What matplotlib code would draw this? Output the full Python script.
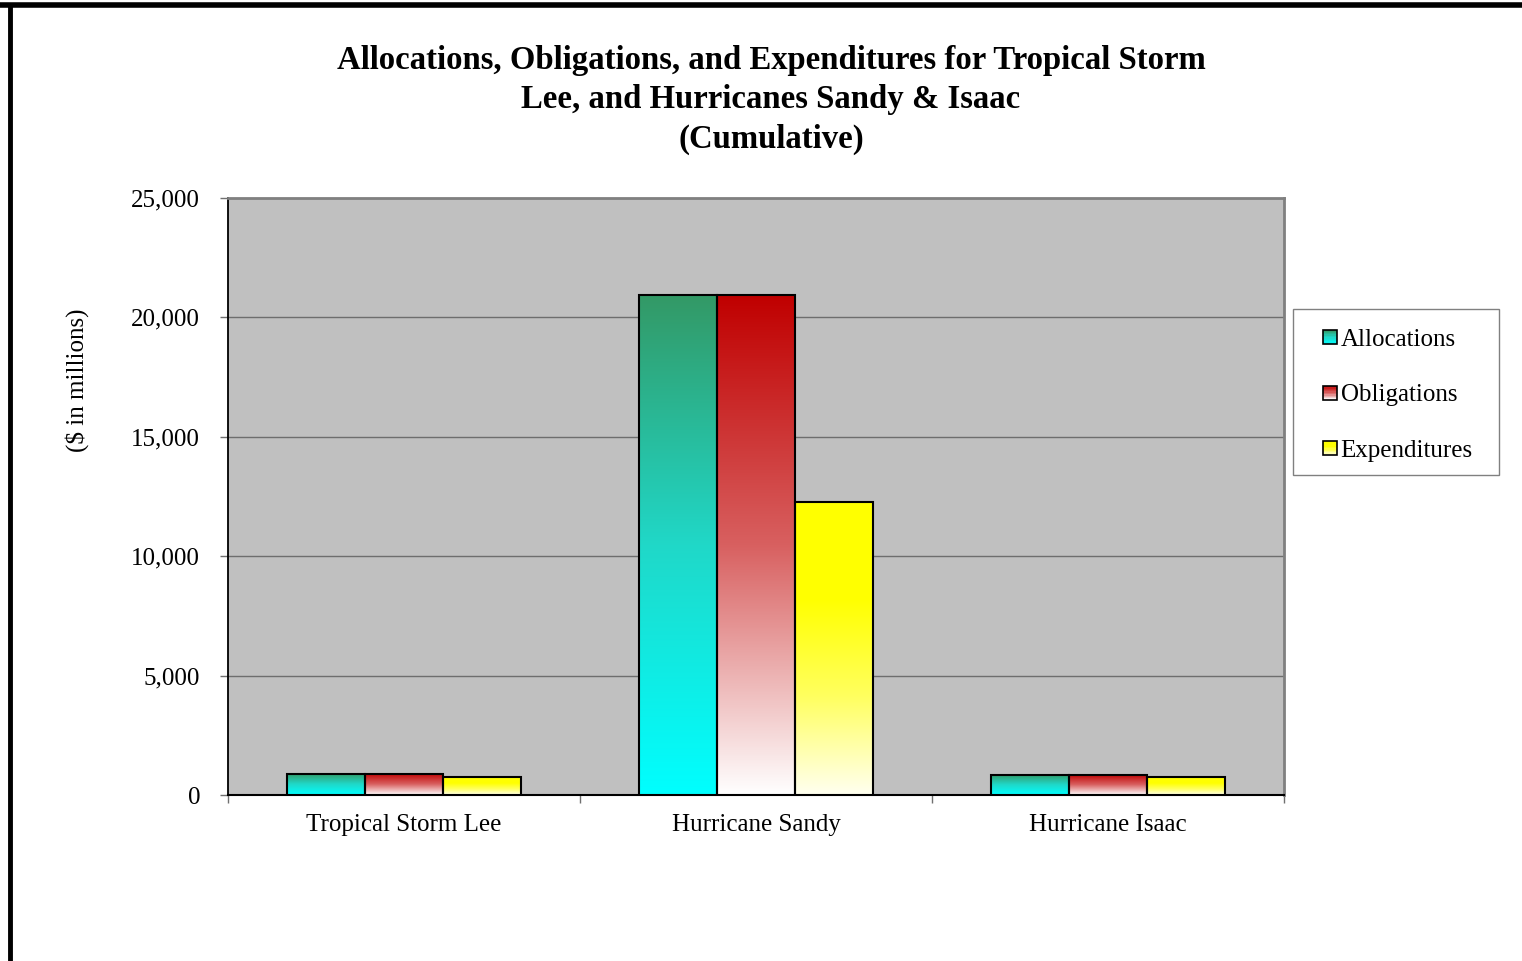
import numpy as np
import matplotlib
matplotlib.use("Agg")
import matplotlib.pyplot as plt
from matplotlib.colors import LinearSegmentedColormap
from matplotlib.patches import Rectangle
from matplotlib.legend_handler import HandlerBase

# Дані графіка
categories = ["Tropical Storm Lee", "Hurricane Sandy", "Hurricane Isaac"]
series = ["Allocations", "Obligations", "Expenditures"]
allocations = [880, 20920, 850]
obligations = [880, 20920, 850]
expenditures = [750, 12270, 740]
values = [allocations, obligations, expenditures]

# Градієнти: (низ, верх)
gradients = [
    LinearSegmentedColormap.from_list("alloc", ["#00FFFF", "#20D8C8", "#339966"]),
    LinearSegmentedColormap.from_list("oblig", ["#FFFFFF", "#D86060", "#C00000"]),
    LinearSegmentedColormap.from_list("expend", ["#FFFFF0", "#FFFF60", "#FFFF00", "#FFFF00"]),
]

plt.rcParams['font.family'] = ['Liberation Serif', 'DejaVu Serif']

fig = plt.figure(figsize=(15.22, 9.61), dpi=100)
ax = fig.add_axes([228 / 1522, 1 - 795 / 961, 1056 / 1522, 597 / 961])
ax.set_facecolor("#C0C0C0")

x = np.arange(len(categories))
width = 0.2216
grad = np.linspace(0, 1, 256).reshape(-1, 1)

for i, (vals, cmap) in enumerate(zip(values, gradients)):
    xs = x + (i - 1) * width
    bars = ax.bar(xs, vals, width, facecolor="none", edgecolor="black",
                  linewidth=1.5, zorder=4)
    for b in bars:
        x0, y0 = b.get_x(), b.get_y()
        ax.imshow(grad, cmap=cmap, origin="lower", aspect="auto",
                  extent=(x0, x0 + b.get_width(), y0, y0 + b.get_height()),
                  zorder=3)

ax.set_xlim(-0.5, 2.5)
ax.set_ylim(0, 25000)
ax.set_yticks(range(0, 25001, 5000))
ax.set_yticklabels([f"{v:,}" for v in range(0, 25001, 5000)])
ax.yaxis.grid(True, color="#6E6E6E", linewidth=1)
ax.set_axisbelow(True)

ax.set_xticks(x)
ax.set_xticklabels(categories)
ax.set_xticks([-0.5, 0.5, 1.5, 2.5], minor=True)
ax.tick_params(axis="x", which="major", length=0, pad=14, labelsize=18)
ax.tick_params(axis="x", which="minor", length=6, color="#707070", width=1)
ax.tick_params(axis="y", length=6, color="#707070", width=1, pad=14, labelsize=18)

for s in ["top", "right"]:
    ax.spines[s].set_color("#808080")
    ax.spines[s].set_linewidth(2)
ax.spines["left"].set_color("black")
ax.spines["left"].set_linewidth(1.3)
ax.spines["bottom"].set_color("black")
ax.spines["bottom"].set_linewidth(1.5)

fig.text(77 / 1522, 1 - 380 / 961, "($ in millions)", rotation=90,
         ha="center", va="center", fontsize=18)

fig.text(771 / 1522, 1 - 100 / 961,
         "Allocations, Obligations, and Expenditures for Tropical Storm\n"
         "Lee, and Hurricanes Sandy & Isaac\n(Cumulative)",
         ha="center", va="center", fontsize=23.6, fontweight="bold",
         linespacing=1.34)


# Градієнтні квадратики в легенді
class GradientHandler(HandlerBase):
    def __init__(self, cmap):
        super().__init__()
        self.cmap = cmap

    def create_artists(self, legend, orig_handle, xdescent, ydescent,
                       width, height, fontsize, trans):
        side = min(width, height) * 0.8
        x0 = width - side - 1
        y0 = (height - side) / 2
        n = 10
        arts = []
        for k in range(n):
            arts.append(Rectangle((x0, y0 + side * k / n), side, side / n,
                                  facecolor=self.cmap((k + 0.5) / n),
                                  edgecolor="none", transform=trans))
        arts.append(Rectangle((x0, y0), side, side, facecolor="none",
                              edgecolor="black", linewidth=1.2, transform=trans))
        return arts


handles = [Rectangle((0, 0), 1, 1) for _ in series]
leg = fig.legend(handles, series,
                 handler_map={h: GradientHandler(c) for h, c in zip(handles, gradients)},
                 loc="upper left", bbox_to_anchor=(1300 / 1522, 1 - 313 / 961),
                 fontsize=18, frameon=False,
                 labelspacing=1.32, handlelength=0.9, handletextpad=0.1,
                 borderpad=0.62, borderaxespad=0)

# Рамка легенди
fig.add_artist(Rectangle((1293 / 1522, 1 - 475 / 961), 206 / 1522, 166 / 961,
                         transform=fig.transFigure, facecolor="white",
                         edgecolor="#808080", linewidth=1, zorder=1))

# Рамка сторінки
fig.add_artist(plt.Line2D([0, 1], [1 - 5 / 961, 1 - 5 / 961], color="black",
                          linewidth=4, transform=fig.transFigure))
fig.add_artist(plt.Line2D([10 / 1522, 10 / 1522], [0, 1 - 5 / 961], color="black",
                          linewidth=3.5, transform=fig.transFigure))

fig.savefig("out.png", dpi=100)
